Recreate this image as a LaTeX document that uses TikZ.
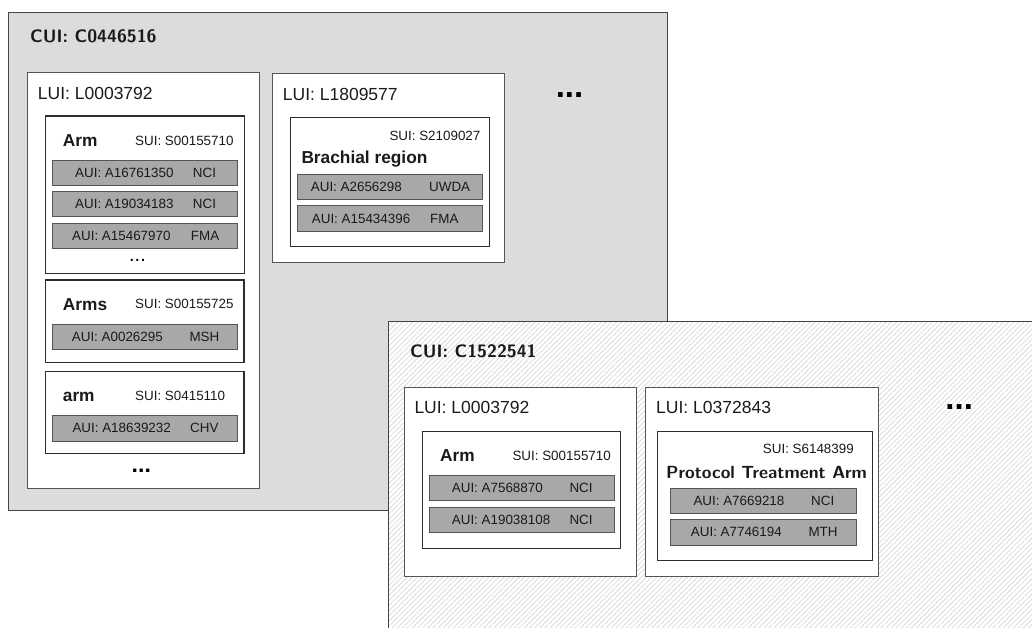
\documentclass[tikz,border=0pt]{standalone}
\usepackage{fontspec}
\setmainfont{Liberation Sans}
\usetikzlibrary{patterns.meta}
\definecolor{cuifill}{HTML}{DCDCDC}
\definecolor{cuiline}{HTML}{444444}
\definecolor{luiline}{HTML}{555555}
\definecolor{suiline}{HTML}{2E2E2E}
\definecolor{auifill}{HTML}{A8A8A8}
\definecolor{auiline}{HTML}{555555}
\definecolor{hatch}{HTML}{D4D4D4}
\definecolor{txt}{HTML}{1A1A1A}
\tikzset{
  box/.style={anchor=north west, inner sep=0pt, outer sep=0pt},
  cuibox/.style={box, draw=cuiline, line width=0.9pt, fill=cuifill},
  luibox/.style={box, draw=luiline, line width=0.8pt, fill=white},
  suibox/.style={box, draw=suiline, line width=1.5pt, fill=white},
  auirow/.style={box, draw=auiline, line width=0.9pt, fill=auifill},
  lbl/.style={anchor=west, inner sep=0pt, text=txt},
  cuitxt/.style={lbl, font=\sffamily\bfseries\fontsize{18}{20}\selectfont},
  luitxt/.style={lbl, font=\fontsize{17.5}{20}\selectfont},
  suitxt/.style={lbl, font=\fontsize{13.4}{15}\selectfont},
  headtxt/.style={lbl, font=\bfseries\fontsize{17.3}{20}\selectfont},
  auitxt/.style={lbl, font=\fontsize{13.4}{15}\selectfont},
  bigdots/.style={inner sep=0pt, text=black, font=\bfseries\fontsize{33}{36}\selectfont},
}
\begin{document}
\begin{tikzpicture}[x=1pt, y=-1pt]
\useasboundingbox (0,0) rectangle (1032,628);
\clip (0,0) rectangle (1032,628);

% ---------------- CUI 1 ----------------
\node[cuibox, minimum width=659.4, minimum height=498] (cui1) at (8.3,12) {};
\node[cuitxt] (cui1t) at (30,36.5) {CUI: C0446516};
\node[bigdots] (dots1) at (569.5,95) {...};

% LUI 1
\node[luibox, minimum width=232.4, minimum height=416.3] (lui1) at (27.3,72) {};
\node[luitxt] (lui1t) at (37.7,93.5) {LUI: L0003792};

% SUI Arm
\node[suibox, minimum width=198.6, minimum height=157.3] (sui1) at (45.7,116) {};
\node[headtxt] (sui1h) at (62.7,141) {Arm};
\node[suitxt] (sui1t) at (135,141) {SUI: S00155710};
\node[auirow, minimum width=185.4, minimum height=24.6] (a11) at (52.3,160.7) {};
\node[auitxt] at (75,173) {AUI: A16761350};
\node[auitxt] at (192.7,173) {NCI};
\node[auirow, minimum width=185.4, minimum height=25] (a12) at (52.3,191.7) {};
\node[auitxt] at (75,204.2) {AUI: A19034183};
\node[auitxt] at (192.7,204.2) {NCI};
\node[auirow, minimum width=185.4, minimum height=25] (a13) at (52.3,223.3) {};
\node[auitxt] at (72,235.8) {AUI: A15467970};
\node[auitxt] at (190.7,235.8) {FMA};
\node[inner sep=0pt, font=\fontsize{20}{22}\selectfont] (dotsa) at (137.5,260.5) {...};

% SUI Arms
\node[suibox, minimum width=198.3, minimum height=82.3] (sui2) at (45.7,280) {};
\node[headtxt] (sui2h) at (62.7,304.3) {Arms};
\node[suitxt] (sui2t) at (135,304) {SUI: S00155725};
\node[auirow, minimum width=185.4, minimum height=25] (a21) at (52.3,324.3) {};
\node[auitxt] at (71.7,336.8) {AUI: A0026295};
\node[auitxt] at (189.3,336.8) {MSH};

% SUI arm
\node[suibox, minimum width=198.3, minimum height=81.6] (sui3) at (45.7,371.7) {};
\node[headtxt] (sui3h) at (62.7,396.7) {arm};
\node[suitxt] (sui3t) at (135,395.7) {SUI: S0415110};
\node[auirow, minimum width=185.4, minimum height=25.3] (a31) at (52.3,415.7) {};
\node[auitxt] at (72.3,428.3) {AUI: A18639232};
\node[auitxt] at (190,428.3) {CHV};
\node[inner sep=0pt, font=\bfseries\fontsize{23}{25}\selectfont] (dotsb) at (141.3,470.5) {...};

% LUI 2
\node[luibox, minimum width=232.7, minimum height=189.4] (lui2) at (272,73.3) {};
\node[luitxt] (lui2t) at (282.7,94) {LUI: L1809577};
\node[suibox, minimum width=198.6, minimum height=129.4] (sui4) at (290.7,117.3) {};
\node[suitxt] (sui4t) at (389.3,136) {SUI: S2109027};
\node[headtxt, anchor=base west] (sui4h) at (301.3,163.6) {Brachial region};
\node[auirow, minimum width=185.7, minimum height=25] (a41) at (297,174.3) {};
\node[auitxt] at (310.7,186.8) {AUI: A2656298};
\node[auitxt] at (429,186.8) {UWDA};
\node[auirow, minimum width=185.7, minimum height=25.6] (a42) at (297,205.7) {};
\node[auitxt] at (311.7,218.5) {AUI: A15434396};
\node[auitxt] at (430,218.5) {FMA};

% ---------------- CUI 2 ----------------
\path[fill=white] (388.3,321) rectangle (1045,640);
\path[pattern={Lines[angle=45,distance=3.6pt,line width=0.6pt]}, pattern color=hatch] (388.3,321) rectangle (1045,640);
\node[box, draw=cuiline, line width=0.9pt, minimum width=660, minimum height=320] (cui2) at (388.3,321) {};
\node[cuitxt] (cui2t) at (410,351.7) {CUI: C1522541};
\node[bigdots] (dots2) at (959.2,406.7) {...};

% LUI 3
\node[luibox, minimum width=232.7, minimum height=189] (lui3) at (404,387.7) {};
\node[luitxt] (lui3t) at (414.3,407.7) {LUI: L0003792};
\node[suibox, minimum width=198, minimum height=116.6] (sui5) at (422.7,431.7) {};
\node[headtxt] (sui5h) at (440,456) {Arm};
\node[suitxt] (sui5t) at (512.3,456) {SUI: S00155710};
\node[auirow, minimum width=185.7, minimum height=25] (a51) at (429,475.7) {};
\node[auitxt] at (451.7,488.2) {AUI: A7568870};
\node[auitxt] at (569.3,488.2) {NCI};
\node[auirow, minimum width=185.7, minimum height=25] (a52) at (429,507.3) {};
\node[auitxt] at (451.7,519.8) {AUI: A19038108};
\node[auitxt] at (569.3,519.8) {NCI};

% LUI 4
\node[luibox, minimum width=232.6, minimum height=189] (lui4) at (645.7,387.7) {};
\node[luitxt] (lui4t) at (656,407.7) {LUI: L0372843};
\node[suibox, minimum width=214.6, minimum height=129] (sui6) at (657.7,431.7) {};
\node[suitxt] (sui6t) at (762.7,449.3) {SUI: S6148399};
\node[lbl, font=\sffamily\bfseries\fontsize{17.6}{20}\selectfont] (sui6h) at (666,472.3) {Protocol Treatment Arm};
\node[auirow, minimum width=186, minimum height=25] (a61) at (670.7,488.3) {};
\node[auitxt] at (693.3,500.8) {AUI: A7669218};
\node[auitxt] at (811,500.8) {NCI};
\node[auirow, minimum width=186, minimum height=25.7] (a62) at (670.7,519.3) {};
\node[auitxt] at (690.7,532.1) {AUI: A7746194};
\node[auitxt] at (808.3,532.1) {MTH};
\end{tikzpicture}
\end{document}
